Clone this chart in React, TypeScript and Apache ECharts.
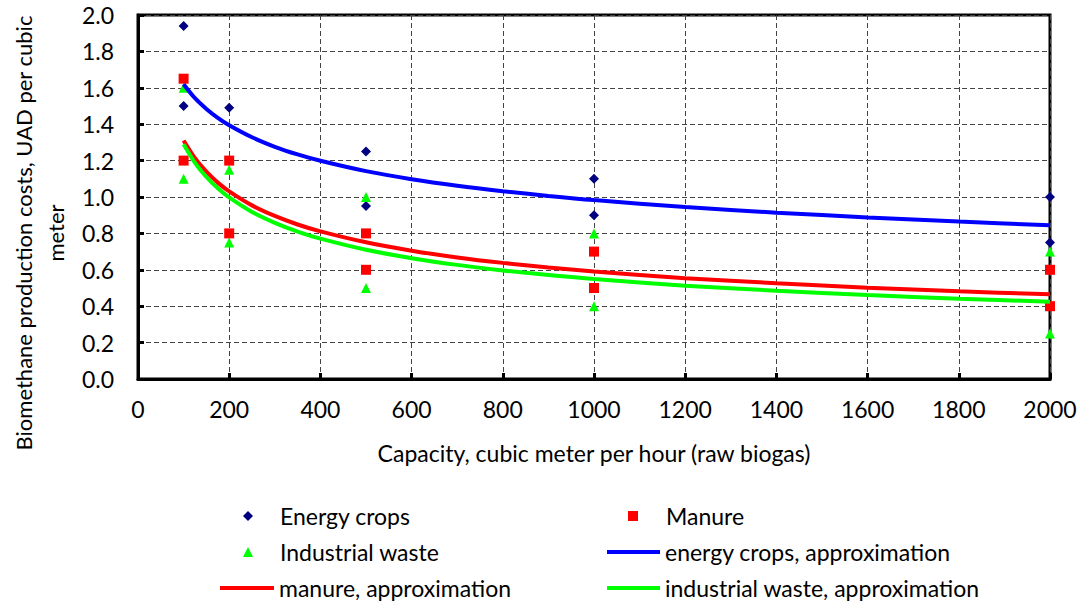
import React, { useEffect, useRef } from "react";
import * as echarts from "echarts";

const xTickValues = [0, 200, 400, 600, 800, 1000, 1200, 1400, 1600, 1800, 2000];
const yTickLabels = ["0.0", "0.2", "0.4", "0.6", "0.8", "1.0", "1.2", "1.4", "1.6", "1.8", "2.0"];

const energyCrops = [
  [100, 1.94], [100, 1.5], [200, 1.49], [500, 1.25], [500, 0.95],
  [1000, 1.1], [1000, 0.9], [2000, 1.0], [2000, 0.75],
];
const manure = [
  [100, 1.65], [100, 1.2], [200, 1.2], [200, 0.8], [500, 0.8], [500, 0.6],
  [1000, 0.7], [1000, 0.5], [2000, 0.6], [2000, 0.4],
];
const industrialWaste = [
  [100, 1.6], [100, 1.1], [200, 1.15], [200, 0.75], [500, 1.0], [500, 0.5],
  [1000, 0.8], [1000, 0.4], [2000, 0.7], [2000, 0.25],
];

const approxX = [100, 125, 150, 175, 200, 250, 300, 350, 400, 500, 600, 700, 800, 900, 1000, 1200, 1400, 1600, 1800, 2000];
const energyApprox = [1.62, 1.543, 1.484, 1.435, 1.394, 1.328, 1.276, 1.234, 1.199, 1.142, 1.098, 1.062, 1.032, 1.006, 0.983, 0.945, 0.914, 0.888, 0.865, 0.845];
const manureApprox = [1.31, 1.213, 1.139, 1.079, 1.031, 0.954, 0.896, 0.849, 0.811, 0.751, 0.705, 0.668, 0.638, 0.613, 0.591, 0.554, 0.526, 0.502, 0.482, 0.465];
const industrialApprox = [1.29, 1.188, 1.11, 1.048, 0.998, 0.918, 0.858, 0.81, 0.771, 0.71, 0.664, 0.627, 0.596, 0.571, 0.549, 0.513, 0.485, 0.461, 0.441, 0.425];

const names = [
  "Energy crops",
  "Manure",
  "Industrial waste",
  "energy crops, approximation",
  "manure, approximation",
  "industrial waste, approximation",
];

const FONT = "Lato";
const FS = 23;

export default function App() {
  const ref = useRef<HTMLDivElement>(null);
  useEffect(() => {
    if (!ref.current) return;
    const chart = echarts.init(ref.current, undefined, { renderer: "svg" });
    const pair = (xs: number[], ys: number[]) => xs.map((x, i) => [x, ys[i]]);
    const legendText = (pad: number) => ({
      fontFamily: FONT,
      fontSize: FS,
      color: "#000",
      lineHeight: 26,
      padding: [0, 0, 0, pad],
    });
    const mkLegend = (name: string, left: number, top: number, icon: string, w: number, h: number, pad: number) => ({
      data: [{ name, icon }],
      left,
      top,
      padding: 0,
      itemWidth: w,
      itemHeight: h,
      selectedMode: false,
      textStyle: legendText(pad),
    });
    const lineSeries = (name: string, color: string, ys: number[]) => ({
      name,
      type: "line",
      smooth: 0.3,
      showSymbol: false,
      clip: false,
      itemStyle: { color },
      lineStyle: { color, width: 4 },
      data: pair(approxX, ys),
      z: 5,
    });
    const scatterSeries = (name: string, symbol: string, color: string, data: number[][], z: number) => ({
      name,
      type: "scatter",
      symbol,
      symbolSize: 10,
      clip: false,
      itemStyle: { color, opacity: 1 },
      data,
      z,
    });
    chart.setOption({
      animation: false,
      backgroundColor: "#fff",
      textStyle: { fontFamily: FONT },
      grid: {
        left: 138,
        right: 32,
        top: 15,
        bottom: 224,
        show: true,
        borderColor: "#000",
        borderWidth: 3,
        backgroundColor: "transparent",
      },
      legend: [
        mkLegend(names[0], 243, 503, "diamond", 10, 10, 22),
        mkLegend(names[1], 628, 503, "rect", 10, 10, 23),
        mkLegend(names[2], 243, 539, "triangle", 10, 10, 22),
        mkLegend(names[3], 607, 539, "rect", 53, 4, 0),
        mkLegend(names[4], 220, 575, "rect", 54, 4, 0),
        mkLegend(names[5], 607, 575, "rect", 53, 4, 0),
      ],
      xAxis: {
        type: "value",
        min: 0,
        max: 2000,
        interval: 200,
        name: "Capacity, cubic meter per hour (raw biogas)",
        nameLocation: "middle",
        nameGap: 62,
        nameTextStyle: { fontFamily: FONT, fontSize: FS, color: "#000" },
        axisLine: { lineStyle: { color: "#000", width: 3 } },
        axisTick: { inside: true, length: 6, lineStyle: { color: "#000", width: 3 } },
        axisLabel: {
          margin: 18,
          fontFamily: FONT,
          fontSize: FS,
          color: "#000",
          formatter: (v: number) => (xTickValues.includes(v) ? String(v) : ""),
        },
        splitLine: { show: true, lineStyle: { color: "#444", width: 1, type: [5, 3] } },
      },
      yAxis: {
        type: "value",
        min: 0,
        max: 2,
        interval: 0.2,
        axisLine: { show: true, lineStyle: { color: "#000", width: 3 } },
        axisTick: { show: true, inside: true, length: 6, lineStyle: { color: "#000", width: 3 } },
        axisLabel: {
          margin: 24,
          fontFamily: FONT,
          fontSize: FS,
          color: "#000",
          formatter: (v: number) => yTickLabels[Math.round(v / 0.2)] ?? "",
        },
        splitLine: { show: true, lineStyle: { color: "#444", width: 1, type: [5, 3] } },
      },
      graphic: [
        {
          type: "text",
          x: 23,
          y: 233,
          rotation: Math.PI / 2,
          style: {
            text: "Biomethane production costs, UAD per cubic",
            fontFamily: FONT,
            fontSize: 22,
            fill: "#000",
            align: "center",
            verticalAlign: "middle",
          },
        },
        {
          type: "text",
          x: 55,
          y: 233,
          rotation: Math.PI / 2,
          style: {
            text: "meter",
            fontFamily: FONT,
            fontSize: 22,
            fill: "#000",
            align: "center",
            verticalAlign: "middle",
          },
        },
      ],
      series: [
        scatterSeries(names[0], "diamond", "#000080", energyCrops, 3),
        scatterSeries(names[2], "triangle", "#00FF00", industrialWaste, 3),
        scatterSeries(names[1], "rect", "#FF0000", manure, 4),
        lineSeries(names[3], "#0000FF", energyApprox),
        lineSeries(names[4], "#FF0000", manureApprox),
        lineSeries(names[5], "#00FF00", industrialApprox),
      ],
    });
    return () => chart.dispose();
  }, []);
  return <div ref={ref} style={{ width: 1082, height: 603, position: "absolute", left: 0, top: 0 }} />;
}
